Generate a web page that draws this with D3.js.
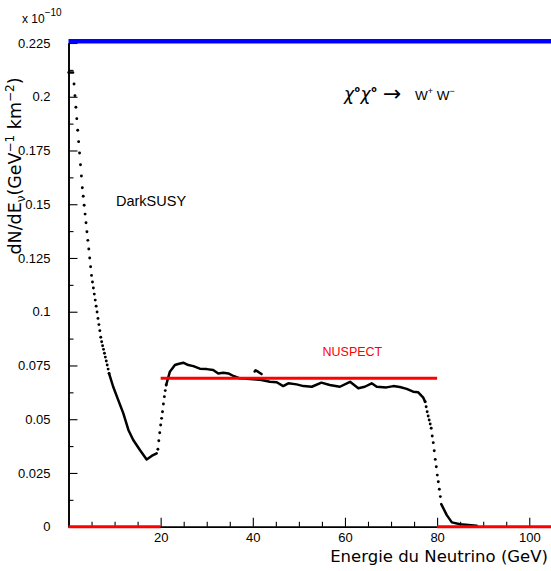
<!DOCTYPE html>
<html>
<head>
<meta charset="utf-8">
<script src="https://cdn.jsdelivr.net/npm/d3@7"></script>
<style>
  html, body { margin: 0; padding: 0; background: #fff; }
  svg { display: block; }
</style>
</head>
<body>
<script>
// Neutrino spectrum from chi0 chi0 -> W+ W- : DarkSUSY samples vs. NUSPECT estimate.
// Flux values are in units of 1e-10 GeV^-1 km^-2.

const xMajorTicks = [20, 40, 60, 80, 100];
const xMinorTicks = [5, 10, 15, 25, 30, 35, 45, 50, 55, 65, 70, 75, 85, 90, 95, 105];
const yMajorTicks = [0, 0.025, 0.05, 0.075, 0.1, 0.125, 0.15, 0.175, 0.2, 0.225];
const yTickLabels = ["0", "0.025", "0.05", "0.075", "0.1", "0.125", "0.15", "0.175", "0.2", "0.225"];
const yMinorTicks = [0.0125, 0.0375, 0.0625, 0.0875, 0.1125, 0.1375, 0.1625, 0.1875, 0.2125];

// DarkSUSY samples that stand apart as individual dots (steep parts of the spectrum)
const dotEnergy = [
  1.2, 1.4, 1.6, 1.8, 2.0, 2.2, 2.4, 2.6, 2.8, 3.0, 3.2, 3.4, 3.6, 3.8, 4.0, 4.2, 4.4, 4.6,
  4.8, 5.0, 5.2, 5.4, 5.6, 5.8, 6.0, 6.2, 6.4, 6.6, 6.8, 7.0, 7.2, 7.4, 7.6, 7.8, 8.0, 8.2, 8.4, 8.6, 8.8,
  19.4, 19.6, 19.8, 20.0, 20.2, 20.4, 20.6, 20.8, 21.0, 21.2,
  77.40, 77.62, 77.84, 78.06, 78.28, 78.50, 78.72, 78.94, 79.16, 79.38, 79.60, 79.82, 80.04, 80.26, 80.48, 80.70
];
const dotFlux = [
  0.2059, 0.2005, 0.1951, 0.1898, 0.1844, 0.1791, 0.1738, 0.1684, 0.1631, 0.1577, 0.1537, 0.1495, 0.1454, 0.1414, 0.1372, 0.1332, 0.1292, 0.1250,
  0.1209, 0.1169, 0.1138, 0.1110, 0.1082, 0.1054, 0.1026, 0.0999, 0.0969, 0.0940, 0.0912, 0.0881, 0.0860, 0.0842, 0.0825, 0.0807, 0.0789, 0.0771, 0.0752, 0.0733, 0.0713,
  0.0360, 0.0400, 0.0437, 0.0473, 0.0504, 0.0535, 0.0571, 0.0605, 0.0633, 0.0659,
  0.0581, 0.0558, 0.0535, 0.0515, 0.0496, 0.0478, 0.0458, 0.0422, 0.0391, 0.0353, 0.0313, 0.0279, 0.0240, 0.0209, 0.0174, 0.0140
];

// DarkSUSY samples where they pile up into a continuous trace (null = break)
const traceEnergy = [
  0.0, 0.5, 1.0, null,
  8.8, 9.7, 10.8, 11.9, 13.0, 14.05, 15.5, 16.96, 18.05, 19.13, null,
  21.2, 22.0, 23.1, 23.8, 24.9, 26.0, 27.1, 28.5, 30.0, 31.4, 32.5, 33.6, 34.7, 35.8, 37.2, 39.4, 40.1,
  41.9, 43.7, 45.2, 46.6, 47.7, 49.5, 51.0, 52.8, 54.9, 56.7, 58.9, 61.1, 62.9, 64.3, 65.8, 66.9,
  69.0, 70.5, 71.9, 73.4, 74.8, 75.9, 77.0, 77.4, null,
  40.4, 40.6, 41.2, 41.9, null,
  80.9, 82.1, 83.2, 85.0, 88.6
];
const traceFlux = [
  0.2113, 0.2113, 0.2113, null,
  0.0713, 0.0651, 0.0589, 0.0527, 0.0450, 0.0403, 0.0357, 0.0313, 0.0329, 0.0341, null,
  0.0659, 0.0721, 0.0752, 0.0757, 0.0763, 0.0752, 0.0747, 0.0735, 0.0733, 0.0729, 0.0713, 0.0716, 0.0713, 0.0701, 0.0690, 0.0687, 0.0686,
  0.0682, 0.0674, 0.0672, 0.0654, 0.0667, 0.0662, 0.0654, 0.0651, 0.0670, 0.0659, 0.0651, 0.0674, 0.0644, 0.0651, 0.0667, 0.0651,
  0.0648, 0.0654, 0.0650, 0.0641, 0.0628, 0.0625, 0.0600, 0.0581, null,
  0.0722, 0.0728, 0.0720, 0.0710, null,
  0.0105, 0.0054, 0.0020, 0.0011, 0.0004
];

// NUSPECT: flat spectrum between bin edges
const nuspectEdges = [0, 20, 80, 105];
const nuspectFlux = [0, 0.069, 0];

// Off-scale spectrum, clipped at the top of the frame
const topBandEdges = [0, 105];
const topBandFlux = 0.2258;

const W = 551, H = 571;
const x = d3.scaleLinear().domain([0, 105]).range([68.5, 552.3]);
const y = d3.scaleLinear().domain([0, 0.225]).range([526.7, 43]);

const svg = d3.select("body").append("svg")
  .attr("width", W).attr("height", H)
  .attr("viewBox", `0 0 ${W} ${H}`);

const tickFont = "'Liberation Sans', Arial, sans-serif";
const titleFont = "'DejaVu Sans', sans-serif";

// ---- axes ----
const xAxisMajor = d3.axisBottom(x).tickValues(xMajorTicks).tickSize(-9).tickSizeOuter(0).tickPadding(6.5);
const xAxisMinor = d3.axisBottom(x).tickValues(xMinorTicks).tickSize(-5).tickSizeOuter(0).tickFormat("");
const yAxisMajor = d3.axisLeft(y).tickValues(yMajorTicks).tickSize(-9).tickSizeOuter(0).tickPadding(18)
  .tickFormat((d, i) => yTickLabels[i]);
const yAxisMinor = d3.axisLeft(y).tickValues(yMinorTicks).tickSize(-5).tickSizeOuter(0).tickFormat("");

function styleAxis(g) {
  g.select(".domain").attr("stroke", "#000").attr("stroke-width", 1.6);
  g.selectAll(".tick line").attr("stroke", "#000").attr("stroke-width", 1.1);
  g.selectAll(".tick text").attr("fill", "#000").style("font-family", tickFont).style("font-size", "13px");
}

svg.append("g").attr("transform", `translate(0,${y(0)})`).call(xAxisMinor).call(styleAxis);
svg.append("g").attr("transform", `translate(0,${y(0)})`).call(xAxisMajor).call(styleAxis);
svg.append("g").attr("transform", `translate(${x(0)},0)`).call(yAxisMinor).call(styleAxis);
svg.append("g").attr("transform", `translate(${x(0)},0)`).call(yAxisMajor).call(styleAxis);

// ---- DarkSUSY spectrum ----
const tracePts = traceEnergy.map((e, i) => ({ e, f: traceFlux[i] }));
const line = d3.line()
  .defined(d => d.e !== null && d.f !== null)
  .x(d => x(d.e)).y(d => y(d.f));

svg.append("path")
  .datum(tracePts)
  .attr("d", line)
  .attr("fill", "none")
  .attr("stroke", "#000")
  .attr("stroke-width", 2.5)
  .attr("stroke-linejoin", "round")
  .attr("stroke-linecap", "round");

svg.append("g").selectAll("circle")
  .data(dotEnergy.map((e, i) => ({ e, f: dotFlux[i] })))
  .join("circle")
  .attr("cx", d => x(d.e))
  .attr("cy", d => y(d.f))
  .attr("r", 1.45)
  .attr("fill", "#000");

// ---- NUSPECT spectrum ----
svg.append("g").selectAll("line")
  .data(nuspectFlux.map((f, i) => ({ e0: nuspectEdges[i], e1: nuspectEdges[i + 1], f })))
  .join("line")
  .attr("x1", d => x(d.e0)).attr("x2", d => x(d.e1))
  .attr("y1", d => y(d.f)).attr("y2", d => y(d.f))
  .attr("stroke", "#ff0000")
  .attr("stroke-width", 3);

// ---- clipped spectrum along the top of the frame ----
svg.append("line")
  .attr("x1", x(topBandEdges[0])).attr("x2", x(topBandEdges[1]))
  .attr("y1", y(topBandFlux)).attr("y2", y(topBandFlux))
  .attr("stroke", "#0000ff")
  .attr("stroke-width", 4.6);

// ---- labels ----
svg.append("text")
  .attr("x", 548).attr("y", 562)
  .attr("text-anchor", "end")
  .style("font-family", titleFont).style("font-size", "16.5px")
  .text("Energie du Neutrino (GeV)");

const yl = svg.append("text")
  .attr("transform", "translate(21,166) rotate(-90)")
  .attr("text-anchor", "middle")
  .style("font-family", titleFont).style("font-size", "17.5px");
yl.append("tspan").text("dN/dE");
yl.append("tspan").attr("dy", 4).style("font-size", "12px").text("ν");
yl.append("tspan").attr("dy", -4).text("(GeV");
yl.append("tspan").attr("dy", -7).style("font-size", "12px").text("−1");
yl.append("tspan").attr("dy", 7).text(" km");
yl.append("tspan").attr("dy", -7).style("font-size", "12px").text("−2");
yl.append("tspan").attr("dy", 7).text(")");

const ex = svg.append("text")
  .attr("x", 22).attr("y", 23)
  .style("font-family", tickFont).style("font-size", "12px");
ex.append("tspan").text("x 10");
ex.append("tspan").attr("dy", -7).style("font-size", "10px").text("−10");

// reaction label: chi0 chi0 -> W+ W-
const chi = svg.append("text")
  .attr("x", 344).attr("y", 100)
  .style("font-family", "'DejaVu Sans', sans-serif").style("font-size", "17px");
chi.append("tspan").style("font-style", "italic").text("χ");
chi.append("tspan").attr("dy", -8).attr("dx", 0.5).style("font-size", "8px").style("font-weight", "bold").text("o");
chi.append("tspan").attr("dy", 8).attr("dx", 0.5).style("font-style", "italic").text("χ");
chi.append("tspan").attr("dy", -8).attr("dx", 0.5).style("font-size", "8px").style("font-weight", "bold").text("o");

svg.append("text")
  .attr("x", 383).attr("y", 100.5)
  .style("font-family", "'DejaVu Sans', sans-serif").style("font-size", "22px")
  .text("→");

const ww = svg.append("text")
  .attr("x", 415).attr("y", 99.5)
  .style("font-family", tickFont).style("font-size", "13.5px");
ww.append("tspan").text("W");
ww.append("tspan").attr("dy", -5.5).style("font-size", "9px").text("+");
ww.append("tspan").attr("dy", 5.5).text(" W");
ww.append("tspan").attr("dy", -5.5).style("font-size", "9px").text("−");

svg.append("text")
  .attr("x", 116).attr("y", 206)
  .style("font-family", tickFont).style("font-size", "14.5px")
  .text("DarkSUSY");

svg.append("text")
  .attr("x", 322.5).attr("y", 355.5)
  .attr("fill", "#ff0000")
  .style("font-family", tickFont).style("font-size", "12.5px")
  .text("NUSPECT");
</script>
</body>
</html>
